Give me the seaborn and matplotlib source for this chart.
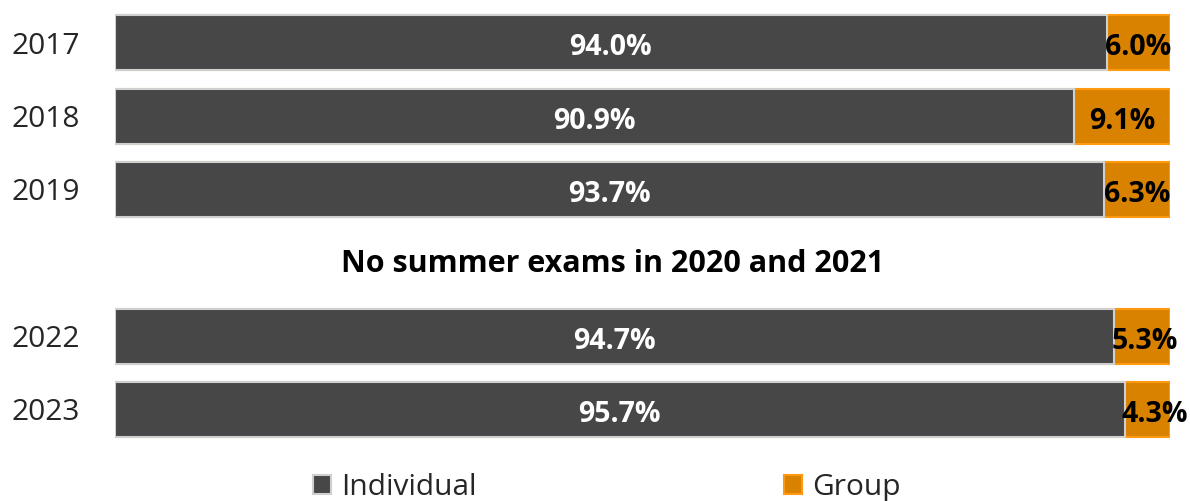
import matplotlib
matplotlib.use("Agg")
import matplotlib.pyplot as plt
import seaborn as sns
import pandas as pd

years = ["2017", "2018", "2019", "2022", "2023"]
individual = [94.0, 90.9, 93.7, 94.7, 95.7]
group = [6.0, 9.1, 6.3, 5.3, 4.3]
gap_label = "No summer exams in 2020 and 2021"
order = ["2017", "2018", "2019", "gap", "2022", "2023"]

sns.set_theme(style="white")
plt.rcParams["font.family"] = ["Open Sans", "DejaVu Sans"]

df = pd.DataFrame({"year": years, "individual": individual, "group": group})
df["total"] = df["individual"] + df["group"]

DARK = "#474747"
ORANGE = "#d98200"

fig = plt.figure(figsize=(11.9, 5.01), dpi=100)
ax = fig.add_axes([115 / 1190, 1 - 446 / 501, 1055 / 1190, 440 / 501])

sns.barplot(data=df, y="year", x="total", order=order, color=ORANGE,
            edgecolor="#ff9a10", linewidth=1.5, width=0.75, orient="h",
            saturation=1, label="Group", ax=ax)
sns.barplot(data=df, y="year", x="individual", order=order, color=DARK,
            edgecolor="#cfcfcf", linewidth=1.5, width=0.75, orient="h",
            saturation=1, label="Individual", ax=ax)

handles, labels = ax.get_legend_handles_labels()
hmap = dict(zip(labels, handles))
if ax.get_legend() is not None:
    ax.get_legend().remove()

pos = {y: i for i, y in enumerate(order)}
dy = 0.07
for y, ind, grp in zip(years, individual, group):
    ax.text(ind / 2, pos[y] + dy, f"{ind:.1f}%", ha="center", va="center",
            color="white", fontsize=20.5, fontweight="bold")
    gx = max(ind + grp / 2, ind + 2.9)
    ax.text(gx, pos[y] + dy, f"{grp:.1f}%", ha="center", va="center",
            color="black", fontsize=20.5, fontweight="bold")

ax.text(47.2, pos["gap"] + 0.02, gap_label, ha="center", va="center",
        fontsize=22, fontweight="bold", color="black")

ax.set_xlim(0, 100)
ax.set_ylim(len(order) - 0.5, -0.5)
ax.set_yticks(range(len(order)))
ax.set_yticklabels([o if o != "gap" else "" for o in order], fontsize=21.5)
ax.tick_params(axis="y", length=0, pad=25)
ax.set_xticks([])
ax.set_xlabel("")
ax.set_ylabel("")
for s in ax.spines.values():
    s.set_visible(False)

fig.legend([hmap["Individual"], hmap["Group"]], ["Individual", "Group"],
           loc="center", bbox_to_anchor=(0.51, 0.026), ncol=2,
           frameon=False, fontsize=21.5, handlelength=0.6, handleheight=0.6,
           handletextpad=0.33, columnspacing=10.3, borderpad=0, borderaxespad=0)

fig.savefig("out.png", dpi=100)
